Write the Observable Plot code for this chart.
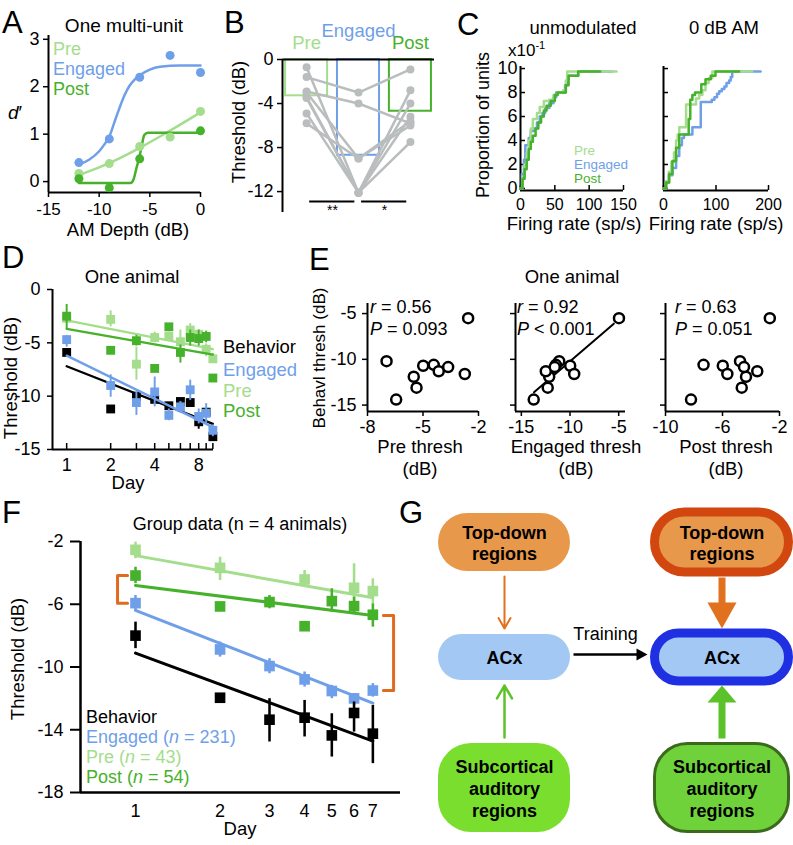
<!DOCTYPE html>
<html><head><meta charset="utf-8">
<script src="https://cdn.jsdelivr.net/npm/d3@7"></script>
<script src="https://cdn.jsdelivr.net/npm/@observablehq/plot@0.6"></script>
<style>
body{margin:0;background:#fff;}
#fig{position:relative;width:793px;height:845px;overflow:hidden;background:#fff;}
#fig svg{position:absolute;left:0;top:0;}
</style></head><body><div id="fig"></div>
<script>
// ================= DATA =================
// Panel A: one multi-unit d' vs AM depth
const aDepth = [-12, -9, -6, -3, 0];
const aPre  = [0.17, 0.38, 0.74, 0.94, 1.48];
const aEng  = [0.40, 0.90, 2.20, 2.66, 2.30];
const aPost = [0.06, -0.13, 0.48, NaN, 1.07];
const aFitPreX  = [-12, -10, -8, -6, -4, -2, 0];
const aFitPreY  = [0.14, 0.30, 0.49, 0.71, 0.95, 1.20, 1.46];
const aFitEngX  = [-12, -11, -10, -9.5, -9, -8.5, -8, -7.5, -7, -6.5, -6, -5, -4, -2, 0];
const aFitEngY  = [0.36, 0.46, 0.64, 0.78, 0.95, 1.25, 1.55, 1.82, 2.02, 2.15, 2.24, 2.36, 2.42, 2.45, 2.45];
const aFitPostX = [-12, -6.9, -6.6, -6.3, -6.05, -5.8, -5.55, -5.2, 0];
const aFitPostY = [-0.03, -0.03, 0.05, 0.3, 0.5, 0.75, 0.98, 1.03, 1.03];

// Panel B: thresholds per condition
const bCats = ["Pre", "Engaged", "Post"];
const bMean = [-3.3, -8.7, -4.7];
const bUnitPre  = [-1.6, -2.9, -0.7, -3.0, -3.5, -3.4, -4.9, -5.8];
const bUnitEng  = [-3.0, -4.0, -12.1, -9.0, -12.1, -12.1, -12.1, -9.0];
const bUnitPost = [-0.9, -5.8, -2.8, -5.6, -4.0, -5.2, -7.5, -6.0];
const bSigFrom = [0, 1], bSigTo = [1, 2], bSigMark = ["**", "*"];

// Panel C: cumulative distributions of firing rate (x10^-1)
const cUnPreX  = [0,3,6,9,12,15,18,24,28,34,42,48,54,62,66,68,140];
const cUnPreY  = [0,1.0,2.0,3.0,4.0,5.0,5.8,6.3,6.8,7.3,7.4,7.8,8.0,8.2,9.0,9.75,9.75];
const cUnEngX  = [0,2,5,7,12,15,20,24,28,32,36,42,48,52,62,65,68,70,80,84,133];
const cUnEngY  = [0,1.2,2.4,3.6,4.2,4.8,5.0,5.5,6.0,6.3,6.7,7.1,7.6,8.0,8.0,8.6,9.1,9.4,9.4,9.75,9.75];
const cUnPostX = [0,3,6,9,12,15,18,22,26,30,34,38,44,50,54,62,66,70,80,84,116];
const cUnPostY = [0,0.8,1.6,2.4,3.3,3.9,4.4,5.0,5.5,6.0,6.5,6.9,7.3,7.8,8.0,8.0,8.6,9.4,9.4,9.75,9.75];
const cAmPreX  = [0,5,10,15,20,24,27,30,40,43,58,62,68,74,80,86,93,169];
const cAmPreY  = [0,0.6,1.4,2.2,3.0,4.0,4.5,5.1,5.1,7.0,7.0,7.5,7.8,8.2,8.8,9.2,9.75,9.75];
const cAmEngX  = [0,5,10,17,24,30,35,39,52,55,68,71,87,92,97,102,106,111,116,120,125,128,131,185];
const cAmEngY  = [0,0.5,1.1,1.7,2.7,3.6,4.2,4.5,4.5,5.1,5.1,7.2,7.2,7.4,7.6,7.9,8.1,8.3,8.5,8.8,9.0,9.3,9.75,9.75];
const cAmPostX = [0,5,11,17,24,30,45,48,51,55,60,68,72,80,90,99,144];
const cAmPostY = [0,0.5,1.2,2.3,3.4,4.5,4.5,5.8,7.4,7.8,8.0,8.0,8.7,9.1,9.4,9.75,9.75];

// Panel D: one animal across days
const dDays = [1,2,3,4,5,6,7,8,9,10];
const dLabelDays = [1,2,4,8];
const dBeh    = [-5.9,-11.2,-10.0,-10.3,-10.9,-10.5,-10.6,-12.4,-11.5,-13.8];
const dBehLo  = [-5.9,-11.2,-10.0,-10.3,-10.9,-10.5,-10.6,-13.1,-12.0,-13.8];
const dBehHi  = [-5.9,-11.2,-10.0,-10.3,-10.9,-10.5,-10.6,-12.0,-11.2,-13.8];
const dEng    = [-4.7,-9.0,-10.6,-9.6,-11.8,-11.0,-9.4,-11.9,-11.6,-13.2];
const dEngLo  = [-5.4,-10.1,-11.8,-11.0,-12.3,-11.6,-10.4,-12.6,-12.6,-13.8];
const dEngHi  = [-4.3,-8.0,-9.6,-8.2,-11.2,-10.5,-8.5,-11.2,-10.7,-12.7];
const dPre    = [-2.7,-2.8,-7.0,-4.5,-4.4,-4.9,-3.8,-4.2,-5.6,-6.5];
const dPreLo  = [-2.7,-3.5,-8.5,-5.0,-4.8,-5.8,-4.8,-5.0,-6.3,-6.8];
const dPreHi  = [-2.7,-2.0,-5.4,-4.0,-4.0,-3.8,-3.2,-3.8,-5.1,-6.0];
const dPost   = [-2.5,-5.7,-4.8,-7.4,-3.5,-5.9,-4.5,-4.6,-4.4,-8.3];
const dPostLo = [-3.7,-5.7,-5.3,-7.4,-3.5,-6.9,-5.3,-5.3,-5.0,-8.3];
const dPostHi = [-1.4,-5.7,-4.3,-7.4,-3.5,-5.2,-3.8,-3.8,-3.9,-8.3];
const dFitDays = [1, 10];
const dFitBeh = [-7.2,-12.6], dFitEng = [-6.2,-12.9], dFitPre = [-2.9,-5.6], dFitPost = [-3.7,-6.1];

// Panel E: behavioral vs neural threshold (one animal)
const eBeh  = [-10.2,-14.4,-11.9,-13.1,-10.7,-10.6,-11.3,-10.85,-11.6,-5.5];
const ePre  = [-6.97,-6.45,-5.5,-5.35,-4.99,-4.42,-4.15,-3.64,-2.74,-2.56];
const eEng  = [-11.11,-13.73,-12.14,-12.29,-9.98,-11.45,-12.49,-11.57,-9.57,-4.97];
const ePost = [-4.77,-8.21,-4.35,-4.65,-5.98,-7.33,-3.56,-4.49,-5.66,-2.68];
const eFitEngX = [-13.7, -5.5], eFitEngY = [-13.6, -6.1];
const eStats = [["r = 0.56","= 0.093"],["r = 0.92","< 0.001"],["r = 0.63","= 0.051"]];
const eXLabels = ["Pre thresh","Engaged thresh","Post thresh"];

// Panel F: group data
const fDays = [1,2,3,4,5,6,7];
const fTickDays = [1,2,3,4,5,6,7];
const fBeh    = [-8.0,-11.96,-13.36,-13.23,-14.36,-12.93,-14.25];
const fBehLo  = [-8.83,-12.3,-14.78,-14.46,-15.74,-14.15,-16.16];
const fBehHi  = [-7.14,-11.7,-12.02,-12.13,-12.98,-12.23,-12.45];
const fEng    = [-5.93,-8.88,-9.94,-10.79,-11.53,-12.0,-11.5];
const fEngLo  = [-6.39,-9.37,-10.43,-11.28,-12.02,-12.45,-11.92];
const fEngHi  = [-5.44,-8.41,-9.47,-10.32,-11.17,-11.7,-11.06];
const fPreDays = [1,2,4,6,7];
const fPre    = [-2.53,-3.68,-4.42,-4.95,-5.16];
const fPreLo  = [-3.1,-4.48,-4.91,-6.39,-5.97];
const fPreHi  = [-2.04,-3.0,-3.85,-3.42,-4.38];
const fPost   = [-4.17,-6.14,-5.86,-7.4,-5.8,-6.12,-6.67];
const fPostLo = [-4.69,-6.14,-6.29,-7.4,-6.5,-6.6,-7.46];
const fPostHi = [-3.64,-6.14,-5.44,-7.4,-5.01,-5.55,-5.97];
const fFitDays = [1, 7];
const fFitPre = [-2.9,-5.59], fFitPost = [-4.8,-6.71], fFitEng = [-6.39,-12.3], fFitBeh = [-9.11,-14.72];

// Panel G: diagram
const gLabels = [["Top-down","regions"],["ACx"],["Subcortical","auditory","regions"]];
const gStages = ["before","after"];

// ================= STYLE / LAYOUT =================
const W = 793, H = 845;
const FONT = '"Liberation Sans", Arial, Helvetica, sans-serif';
const C_PRE = "#a4dd8c", C_ENG = "#6f9fe9", C_POST = "#46b12a", C_GRAY = "#b9bdbd", C_BR = "#e06b1f";
const fmt = d => String(d);
const fig = document.getElementById("fig");
function frame(l, r, t, b, fs = 18) {
  return {width: W, height: H, marginLeft: l, marginRight: W - r, marginTop: t, marginBottom: H - b,
    style: {background: "transparent", overflow: "visible", fontFamily: FONT, fontSize: fs + "px", color: "#000"}};
}
function add(p) { p.style.position = "absolute"; p.style.left = "0px"; p.style.top = "0px"; fig.appendChild(p); }
const pts = (xs, ys, lo, hi) => xs.map((x, i) => ({x, y: ys[i], lo: lo ? lo[i] : ys[i], hi: hi ? hi[i] : ys[i]})).filter(d => Number.isFinite(d.y));

// ---------- A ----------
add(Plot.plot({...frame(48, 200, 35, 192),
  x: {domain: [-15, 0]}, y: {domain: [-0.23, 3.08]},
  marks: [
    Plot.axisX({ticks: [-15,-10,-5,0], tickFormat: fmt, tickSize: 5, tickPadding: 5, fontSize: 17, label: null, strokeWidth: 1.5}),
    Plot.axisY({ticks: [0,1,2,3], tickFormat: fmt, tickSize: 5, tickPadding: 4, label: null, strokeWidth: 1.5}),
    Plot.ruleX([-15], {strokeWidth: 2}), Plot.ruleY([-0.23], {strokeWidth: 2}),
    Plot.line(pts(aFitPreX, aFitPreY), {x: "x", y: "y", stroke: C_PRE, strokeWidth: 2.5, curve: "monotone-x"}),
    Plot.line(pts(aFitPostX, aFitPostY), {x: "x", y: "y", stroke: C_POST, strokeWidth: 2.5, curve: "monotone-x"}),
    Plot.line(pts(aFitEngX, aFitEngY), {x: "x", y: "y", stroke: C_ENG, strokeWidth: 2.5, curve: "monotone-x"}),
    Plot.dot(pts(aDepth, aPre), {x: "x", y: "y", r: 4.5, fill: C_PRE}),
    Plot.dot(pts(aDepth, aPost), {x: "x", y: "y", r: 4.5, fill: C_POST}),
    Plot.dot(pts(aDepth, aEng), {x: "x", y: "y", r: 4.5, fill: C_ENG})
  ]}));

// ---------- B ----------
const bHalf = 0.405;
const bBars = bCats.map((c, i) => ({i, cat: c, v: bMean[i]}));
const bUnits = bUnitPre.flatMap((v, u) => [
  {unit: u, i: 0, v}, {unit: u, i: 1, v: bUnitEng[u]}, {unit: u, i: 2, v: bUnitPost[u]}]);
const bSig = bSigFrom.map((f, k) => ({a: f, b: bSigTo[k], m: bSigMark[k]}));
add(Plot.plot({...frame(282, 434, 59, 212),
  x: {domain: [-0.464, 2.464], axis: null}, y: {domain: [-13.9, 0]},
  color: {domain: bCats, range: [C_PRE, C_ENG, C_POST]},
  marks: [
    Plot.axisY({ticks: [0,-4,-8,-12], tickFormat: fmt, tickSize: 5, tickPadding: 4, label: null, strokeWidth: 1.5}),
    Plot.rect(bBars, {x1: d => d.i - bHalf, x2: d => d.i + bHalf, y1: () => 0, y2: "v", stroke: "cat", fill: "none", strokeWidth: 2}),
    Plot.line(bUnits, {x: "i", y: "v", z: "unit", stroke: C_GRAY, strokeWidth: 2.5}),
    Plot.dot(bUnits, {x: "i", y: "v", r: 4, fill: C_GRAY}),
    Plot.ruleX([-0.464], {strokeWidth: 2}), Plot.ruleY([0], {strokeWidth: 2}),
    Plot.link(bSig, {x1: d => d.a + 0.05, x2: d => d.b - 0.08, y1: () => -12.9, y2: () => -12.9, strokeWidth: 2}),
    Plot.text(bSig, {x: d => (d.a + d.b) / 2, y: () => -12.9, dy: 9, text: "m", fontSize: 14}),
    Plot.text(bBars.filter(d => d.cat !== "Engaged"), {x: "i", y: () => 0, dy: -16, text: "cat", fill: "cat", fontSize: 18.5}),
    Plot.text(bBars.filter(d => d.cat === "Engaged"), {x: "i", y: () => 0, dy: -28, text: "cat", fill: "cat", fontSize: 18.5})
  ]}));

// ---------- C ----------
function cPanel(l, r, xdom, xticks, showY, curves) {
  return Plot.plot({...frame(l, r, 66, 190),
    x: {domain: xdom}, y: {domain: [-0.17, 10.17]},
    marks: [
      Plot.axisX({ticks: xticks, tickFormat: fmt, tickSize: -5, tickPadding: 13, fontSize: 16, label: null, strokeWidth: 1.5}),
      Plot.axisY({ticks: [0,2,4,6,8,10], tickFormat: showY ? fmt : () => "", tickSize: -5, tickPadding: 8, label: null, strokeWidth: 1.5}),
      Plot.ruleX([xdom[0]], {strokeWidth: 2}), Plot.ruleY([-0.17], {strokeWidth: 2}),
      ...curves.map(([xs, ys, col]) => Plot.line(pts(xs, ys), {x: "x", y: "y", stroke: col, strokeWidth: 2.5, curve: "step-after"}))
    ]});
}
add(cPanel(520, 623, [0, 150], [0,50,100,150], true,
  [[cUnEngX, cUnEngY, C_ENG], [cUnPreX, cUnPreY, C_PRE], [cUnPostX, cUnPostY, C_POST]]));
add(cPanel(663, 768, [0, 200], [0,100,200], false,
  [[cAmEngX, cAmEngY, C_ENG], [cAmPreX, cAmPreY, C_PRE], [cAmPostX, cAmPostY, C_POST]]));

// ---------- D ----------
function trend(days, vals, lo, hi, fitDays, fit, color, r, sw) {
  const p = pts(days, vals, lo, hi);
  return [
    Plot.line(pts(fitDays, fit), {x: "x", y: "y", stroke: color, strokeWidth: sw}),
    Plot.ruleX(p.filter(d => d.lo !== d.hi), {x: "x", y1: "lo", y2: "hi", stroke: color, strokeWidth: sw * 0.85}),
    Plot.dot(p, {x: "x", y: "y", symbol: "square", r, fill: color})
  ];
}
add(Plot.plot({...frame(52, 213, 289, 449),
  x: {type: "log", base: 2, domain: [0.8, 10.1]}, y: {domain: [-15, 0]},
  marks: [
    Plot.axisX({ticks: dDays, tickFormat: d => dLabelDays.includes(d) ? String(d) : "", tickSize: -6, tickPadding: 15, label: null, strokeWidth: 1.5}),
    Plot.axisY({ticks: [0,-5,-10,-15], tickFormat: fmt, tickSize: 5, tickPadding: 7, label: null, strokeWidth: 1.5}),
    Plot.ruleX([0.8], {strokeWidth: 2}), Plot.ruleY([-15], {strokeWidth: 2}),
    ...trend(dDays, dPre, dPreLo, dPreHi, dFitDays, dFitPre, C_PRE, 5, 2.3),
    ...trend(dDays, dPost, dPostLo, dPostHi, dFitDays, dFitPost, C_POST, 5, 2.3),
    ...trend(dDays, dBeh, dBehLo, dBehHi, dFitDays, dFitBeh, "#000", 5, 2.3),
    ...trend(dDays, dEng, dEngLo, dEngHi, dFitDays, dFitEng, C_ENG, 5, 2.3)
  ]}));

// ---------- E ----------
function ePanel(l, r, xdom, xticks, xs, showY, fit) {
  return Plot.plot({...frame(l, r, 303, 411),
    x: {domain: xdom}, y: {domain: [-15.7, -3.9]},
    marks: [
      Plot.axisX({ticks: xticks, tickFormat: fmt, tickSize: 5, tickPadding: 4, label: null, strokeWidth: 1.5}),
      Plot.axisY({ticks: [-5,-10,-15], tickFormat: showY ? fmt : () => "", tickSize: 5, tickPadding: 6, label: null, strokeWidth: 1.5}),
      Plot.ruleX([xdom[0]], {strokeWidth: 2}), Plot.ruleY([-15.7], {strokeWidth: 2}),
      ...(fit ? [Plot.line(pts(fit[0], fit[1]), {x: "x", y: "y", stroke: "#000", strokeWidth: 2})] : []),
      Plot.dot(pts(xs, eBeh), {x: "x", y: "y", r: 5, stroke: "#000", strokeWidth: 2.5, fill: "white"})
    ]});
}
add(ePanel(367, 478, [-8, -2], [-8,-5,-2], ePre, true, null));
add(ePanel(515, 625, [-15.6, -4.3], [-15,-10,-5], eEng, false, [eFitEngX, eFitEngY]));
add(ePanel(665, 779, [-10, -2], [-10,-6,-2], ePost, false, null));

// ---------- F ----------
const fBrackets = [
  [{x: fDays[0] * 0.937, y: fPost[0]}, {x: fDays[0] * 0.863, y: fPost[0]}, {x: fDays[0] * 0.863, y: fEng[0]}, {x: fDays[0] * 0.937, y: fEng[0]}],
  [{x: fDays[6] * 1.09, y: fFitPost[1]}, {x: fDays[6] * 1.185, y: fFitPost[1]}, {x: fDays[6] * 1.185, y: fEng[6]}, {x: fDays[6] * 1.09, y: fEng[6]}]
].flatMap((b, k) => b.map(p => ({...p, k})));
add(Plot.plot({...frame(80, 400, 541, 792),
  x: {type: "log", domain: [0.637, 8.78]}, y: {domain: [-18, -2]},
  marks: [
    Plot.axisX({ticks: fTickDays, tickFormat: fmt, tickSize: 0, tickPadding: 11.5, label: null}),
    Plot.axisY({ticks: [-2,-6,-10,-14,-18], tickFormat: fmt, tickSize: 10, tickPadding: 7, label: null, strokeWidth: 2}),
    Plot.ruleX([0.637], {strokeWidth: 2.5}), Plot.ruleY([-18], {strokeWidth: 2.5}),
    ...trend(fPreDays, fPre, fPreLo, fPreHi, fFitDays, fFitPre, C_PRE, 6, 3),
    ...trend(fDays, fPost, fPostLo, fPostHi, fFitDays, fFitPost, C_POST, 6, 3),
    ...trend(fDays, fEng, fEngLo, fEngHi, fFitDays, fFitEng, C_ENG, 6, 3),
    ...trend(fDays, fBeh, fBehLo, fBehHi, fFitDays, fFitBeh, "#000", 6, 3),
    Plot.line(fBrackets, {x: "x", y: "y", z: "k", stroke: C_BR, strokeWidth: 3})
  ]}));

// ---------- G (diagram) ----------
const G_COLX = [504, 721.5], G_W = [132, 134];
const G_ROWS = [{y: 542, h: [58, 60], rx: 30}, {y: 657, h: [46, 48], rx: 24}, {y: 787.5, h: [89, 88], rx: 33}];
const G_STYLE = {
  before: [{fill: "#e8984b"}, {fill: "#a3c8f4"}, {fill: "#7ade2e"}],
  after: [{fill: "#e8984b", stroke: "#d2470f", sw: 9}, {fill: "#a3c8f4", stroke: "#1f30e3", sw: 9}, {fill: "#6fd23b", stroke: "#3b6a1d", sw: 3}]
};
const gNodes = gStages.flatMap((s, c) => gLabels.map((lab, r) => ({stage: s, c, r, text: lab.join("\n")})));
const gMarks = [];
for (const n of gNodes) {
  const st = G_STYLE[n.stage][n.r], row = G_ROWS[n.r], h = row.h[n.c], w = G_W[n.c], cx = G_COLX[n.c];
  gMarks.push(Plot.rect([n], {x1: () => cx - w / 2, x2: () => cx + w / 2, y1: () => row.y - h / 2, y2: () => row.y + h / 2,
    rx: Math.min(row.rx, h / 2), fill: st.fill, stroke: st.stroke || "none", strokeWidth: st.sw || 0}));
}
gMarks.push(Plot.text(gNodes, {x: d => G_COLX[d.c], y: d => G_ROWS[d.r].y, text: "text", fontWeight: "bold", fontSize: 18, lineHeight: 1.2}));
const C_ARO = "#e2711f", C_ARG = "#5cc22a";
gMarks.push(Plot.arrow([{x: G_COLX[0], y1: 576, y2: 628}], {x1: "x", x2: "x", y1: "y1", y2: "y2", stroke: C_ARO, strokeWidth: 2, headLength: 9}));
gMarks.push(Plot.arrow([{x: G_COLX[0], y1: 737, y2: 685}], {x1: "x", x2: "x", y1: "y1", y2: "y2", stroke: C_ARG, strokeWidth: 2.5, headLength: 9}));
gMarks.push(Plot.link([{x1: 573, x2: 639, y: 654}], {x1: "x1", x2: "x2", y1: "y", y2: "y", stroke: "#000", strokeWidth: 2.5}));
gMarks.push(Plot.line([{x: 636, y: 648}, {x: 647, y: 654}, {x: 636, y: 660}], {x: "x", y: "y", fill: "#000", stroke: "none"}));
gMarks.push(Plot.text([{x: 605, y: 634, t: "Training"}], {x: "x", y: "y", text: "t", fontSize: 18}));
const cx1 = G_COLX[1];
gMarks.push(Plot.link([{y1: 577, y2: 604}], {x1: () => cx1, x2: () => cx1, y1: "y1", y2: "y2", stroke: C_ARO, strokeWidth: 7}));
gMarks.push(Plot.line([{x: cx1 - 14.5, y: 602}, {x: cx1 + 14.5, y: 602}, {x: cx1, y: 628}], {x: "x", y: "y", fill: C_ARO, stroke: "none"}));
gMarks.push(Plot.link([{y1: 738, y2: 700}], {x1: () => cx1, x2: () => cx1, y1: "y1", y2: "y2", stroke: C_ARG, strokeWidth: 7}));
gMarks.push(Plot.line([{x: cx1 - 14.5, y: 702}, {x: cx1 + 14.5, y: 702}, {x: cx1, y: 685}], {x: "x", y: "y", fill: C_ARG, stroke: "none"}));
add(Plot.plot({...frame(0, W, 0, H),
  x: {domain: [0, W], range: [0, W], axis: null}, y: {domain: [0, H], range: [0, H], axis: null},
  marks: gMarks}));

// ================= TEXT LAYER =================
const ov = d3.create("svg").attr("width", W).attr("height", H)
  .attr("style", "position:absolute;left:0;top:0;overflow:visible;white-space:pre")
  .attr("font-family", FONT);
function T(parts, x, y, {size = 18.5, anchor = "start", fill = "#000", rotate = 0} = {}) {
  const t = ov.append("text").attr("transform", `translate(${x},${y})` + (rotate ? ` rotate(${rotate})` : ""))
    .attr("text-anchor", anchor).attr("font-size", size).attr("fill", fill);
  (Array.isArray(parts) ? parts : [parts]).forEach(p => {
    if (typeof p === "string") t.append("tspan").text(p);
    else {
      const s = t.append("tspan").text(p.t);
      if (p.i) s.attr("font-style", "italic");
      if (p.sup) s.attr("font-size", size * 0.65).attr("dy", -size * 0.42);
    }
  });
}
[["A",2,33],["B",224,33],["C",457,35],["D",2,268],["E",309,270],["F",2,523],["G",399,523]]
  .forEach(([l,x,y]) => T(l, x, y, {size: 31}));
// A
T("One multi-unit", 124, 32, {size: 19, anchor: "middle"});
T("Pre", 53, 55, {fill: C_PRE, size: 18}); T("Engaged", 53, 75, {fill: C_ENG, size: 18}); T("Post", 53, 95, {fill: C_POST, size: 18});
T([{t: "d", i: true}, "\u2032"], 8, 119, {size: 19});
T("AM Depth (dB)", 128, 236, {anchor: "middle"});
// B
T("Threshold (dB)", 245, 122, {anchor: "middle", rotate: -90});
// C
T("unmodulated", 583, 34, {anchor: "middle"});
T("0 dB AM", 724, 34, {anchor: "middle"});
T("Proportion of units", 489, 125, {anchor: "middle", rotate: -90, size: 18});
T(["x10", {t: "-1", sup: true}], 508, 56, {size: 17});
T("Firing rate (sp/s)", 574, 230, {anchor: "middle"});
T("Firing rate (sp/s)", 716, 230, {anchor: "middle"});
T("Pre", 574, 155, {size: 13.5, fill: C_PRE}); T("Engaged", 574, 169, {size: 13.5, fill: C_ENG}); T("Post", 574, 183, {size: 13.5, fill: C_POST});
// D
T("One animal", 132, 283, {anchor: "middle"});
T("Threshold (dB)", 17, 378, {anchor: "middle", rotate: -90});
T("Day", 128, 489, {anchor: "middle"});
T("Behavior", 223, 353); T("Engaged", 223, 376, {fill: C_ENG}); T("Pre", 223, 397, {fill: C_PRE}); T("Post", 223, 417, {fill: C_POST});
// E
T("One animal", 572, 283, {anchor: "middle"});
T("Behavl thresh (dB)", 325, 358, {anchor: "middle", rotate: -90, size: 17});
[370, 517, 675].forEach((x, k) => {
  T([{t: "r", i: true}, eStats[k][0].slice(1)], x, 313, {size: 18});
  T([{t: "P", i: true}, " " + eStats[k][1]], x, 335, {size: 18});
});
[420, 576, 726].forEach((x, k) => { T(eXLabels[k], x, 453, {anchor: "middle"}); T("(dB)", x, 475, {anchor: "middle"}); });
// F
T("Group data (n = 4 animals)", 240, 530, {anchor: "middle", size: 18});
T("Threshold (dB)", 24, 659, {anchor: "middle", rotate: -90});
T("Behavior", 86, 723, {size: 18});
T(["Engaged (", {t: "n", i: true}, " = 231)"], 86, 743, {fill: C_ENG, size: 18});
T(["Pre (", {t: "n", i: true}, " = 43)"], 86, 763, {fill: C_PRE, size: 18});
T(["Post (", {t: "n", i: true}, " = 54)"], 86, 783, {fill: C_POST, size: 18});
T("Day", 240, 835, {anchor: "middle"});
fig.appendChild(ov.node());
</script></body></html>
